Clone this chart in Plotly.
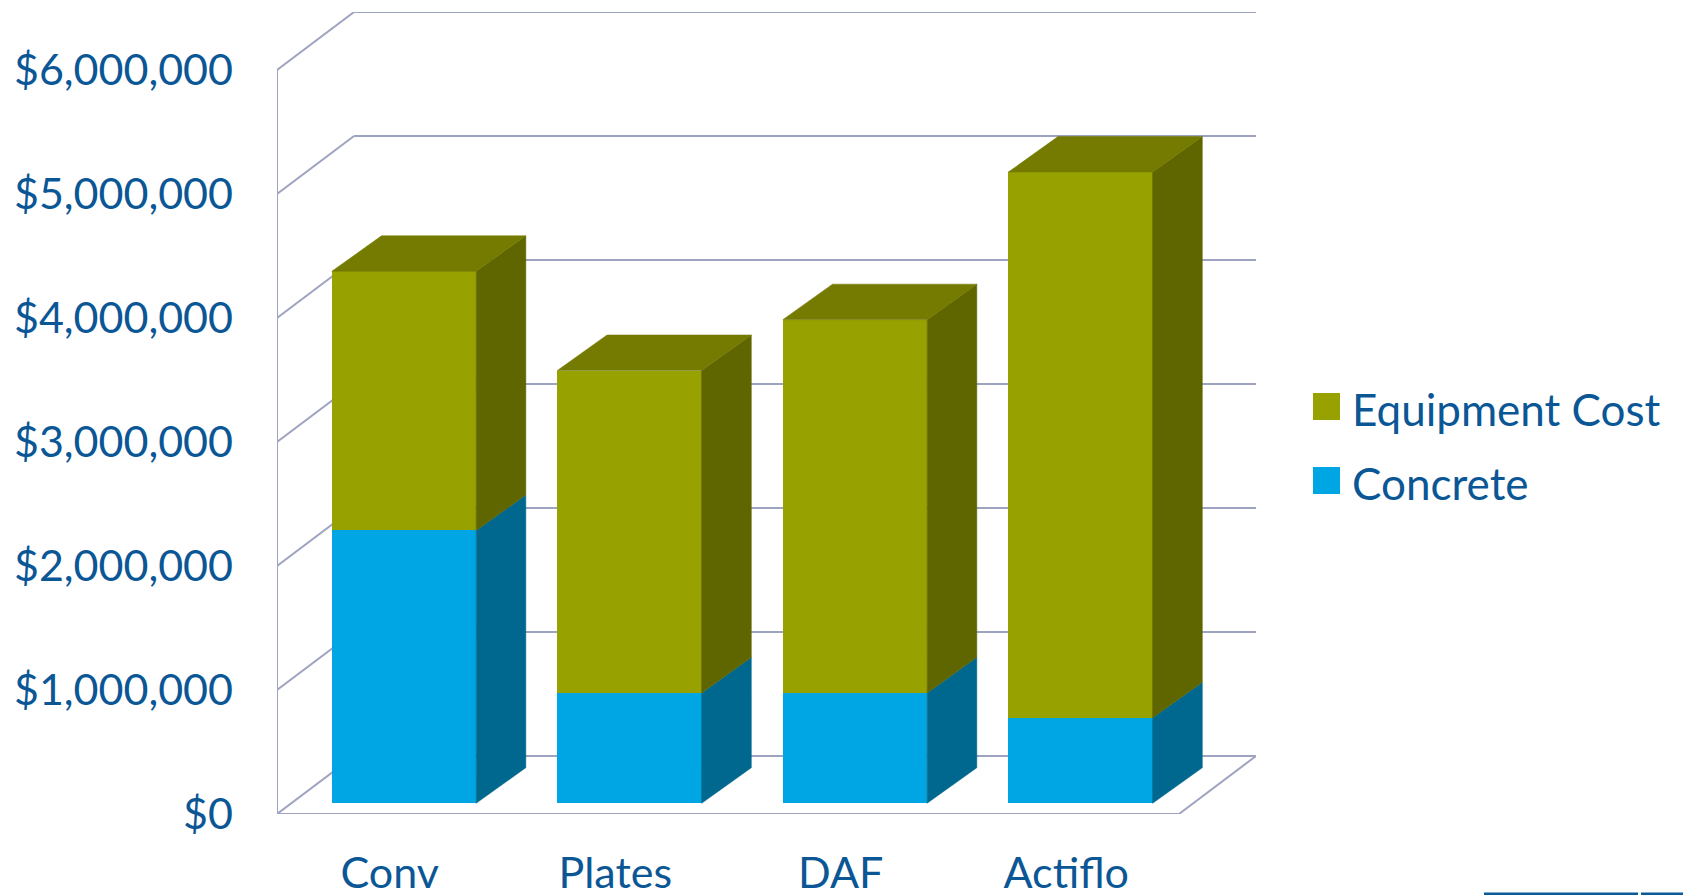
import plotly.graph_objects as go

# ---------------- data ----------------
categories = ["Conv", "Plates", "DAF", "Actiflo"]
concrete = [2200000, 890000, 890000, 690000]
equipment = [2090000, 2600000, 3010000, 4400000]
y_ticks = [0, 1000000, 2000000, 3000000, 4000000, 5000000, 6000000]
series_names = ["Equipment Cost", "Concrete"]

# ---------------- styling / geometry ----------------
W, H = 1683, 895
L, R, T, B = 277, 1256, 12, 814          # plot area in pixels
DEPTH_X = 0.3416                         # full wall depth, in category units
DEPTH_V = 467700                         # full wall depth, in value units
XMIN, XMAX = -0.5, len(categories) - 0.5
D_FRONT, D_BACK = 0.185, 0.83            # bar depth span (fraction of wall depth)
HALF_W = 0.32
YMAX = y_ticks[-1] + DEPTH_V

TEXT = "#0B5796"
GRID = "#9EA3C0"
OLIVE, OLIVE_TOP, OLIVE_SIDE = "#97A200", "#757A00", "#5F6600"
BLUE, BLUE_SIDE = "#00A6E3", "#00688F"
FONT = "Lato"
FS = 43

fig = go.Figure()

# ---------- walls / gridlines (drawn below traces) ----------
shapes = []
def seg(x0, y0, x1, y1, color=GRID, width=2, layer="below"):
    shapes.append(dict(type="line", xref="x", yref="y", x0=x0, y0=y0, x1=x1, y1=y1,
                       line=dict(color=color, width=width), layer=layer))

# left front vertical axis line
seg(XMIN, 0, XMIN, y_ticks[-1])
for v in y_ticks:
    # side wall diagonal
    seg(XMIN, v, XMIN + DEPTH_X, v + DEPTH_V)
    # back wall horizontal
    seg(XMIN + DEPTH_X, v + DEPTH_V, XMAX + DEPTH_X, v + DEPTH_V)
# floor front and right edges
seg(XMIN, 0, XMAX, 0)
seg(XMAX, 0, XMAX + DEPTH_X, DEPTH_V)

# ---------- bars ----------
fx = D_FRONT * DEPTH_X
fv = D_FRONT * DEPTH_V
dx = (D_BACK - D_FRONT) * DEPTH_X
dv = (D_BACK - D_FRONT) * DEPTH_V * 0.95
xs = [i + fx for i in range(len(categories))]

fig.add_trace(go.Bar(x=xs, y=concrete, base=[fv] * len(categories), width=2 * HALF_W,
                     marker=dict(color=BLUE, line=dict(width=0)), name=series_names[1],
                     showlegend=False, hoverinfo="skip"))
fig.add_trace(go.Bar(x=xs, y=equipment, base=[fv + c for c in concrete], width=2 * HALF_W,
                     marker=dict(color=OLIVE, line=dict(width=0)), name=series_names[0],
                     showlegend=False, hoverinfo="skip"))

def poly(px, py, color):
    fig.add_trace(go.Scatter(x=px + [px[0]], y=py + [py[0]], mode="lines", fill="toself",
                             fillcolor=color, line=dict(color=color, width=0.5),
                             showlegend=False, hoverinfo="skip"))

for i, c in enumerate(categories):
    xr = xs[i] + HALF_W
    xl = xs[i] - HALF_W
    v0 = fv
    v1 = fv + concrete[i]
    v2 = v1 + equipment[i]
    # side faces
    poly([xr, xr + dx, xr + dx, xr], [v0, v0 + dv, v1 + dv, v1], BLUE_SIDE)
    poly([xr, xr + dx, xr + dx, xr], [v1, v1 + dv, v2 + dv, v2], OLIVE_SIDE)
    # top face
    poly([xl, xr, xr + dx, xl + dx], [v2, v2, v2 + dv, v2 + dv], OLIVE_TOP)

# ---------- legend (drawn manually to match the large swatches) ----------
def px2paper(px, py):
    return (px - L) / (R - L), (B - py) / (B - T)

legend_items = [(series_names[0], OLIVE, 393, 420), (series_names[1], BLUE, 467, 494)]
annotations = []
for name, col, ytop, ybot in legend_items:
    x0, y0 = px2paper(1313, ybot)
    x1, y1 = px2paper(1340, ytop)
    shapes.append(dict(type="rect", xref="paper", yref="paper", x0=x0, x1=x1, y0=y0, y1=y1,
                       fillcolor=col, line=dict(width=0)))
    ax, ay = px2paper(1350, (ytop + ybot) / 2 + 2)
    annotations.append(dict(xref="paper", yref="paper", x=ax, y=ay, xanchor="left",
                            yanchor="middle", text=name, showarrow=False,
                            font=dict(family=FONT, size=44, color=TEXT)))

# footer lines at bottom right
for a, b in [(1484, 1638), (1641, 1683)]:
    xa, yy = px2paper(a, 894)
    xb, _ = px2paper(b, 894)
    shapes.append(dict(type="line", xref="paper", yref="paper", x0=xa, x1=xb, y0=yy, y1=yy,
                       line=dict(color="#0B5A9A", width=3)))

fig.update_layout(
    width=W, height=H,
    margin=dict(l=L, r=W - R, t=T, b=H - B, pad=0, autoexpand=False),
    paper_bgcolor="white", plot_bgcolor="white",
    barmode="overlay", bargap=0,
    shapes=shapes, annotations=annotations,
    showlegend=False,
    font=dict(family=FONT, size=FS, color=TEXT),
)
fig.update_xaxes(range=[XMIN, XMAX + DEPTH_X], tickvals=list(range(len(categories))),
                 ticktext=categories, showgrid=False, zeroline=False, showline=False,
                 ticks="", ticklabelstandoff=30, automargin=False,
                 tickfont=dict(family=FONT, size=FS, color=TEXT))
fig.update_yaxes(range=[0, YMAX], tickvals=y_ticks, tickformat="$,.0f",
                 showgrid=False, zeroline=False, showline=False, ticks="",
                 ticklabelstandoff=43, automargin=False,
                 tickfont=dict(family=FONT, size=FS, color=TEXT))

fig.write_html("out.html")
